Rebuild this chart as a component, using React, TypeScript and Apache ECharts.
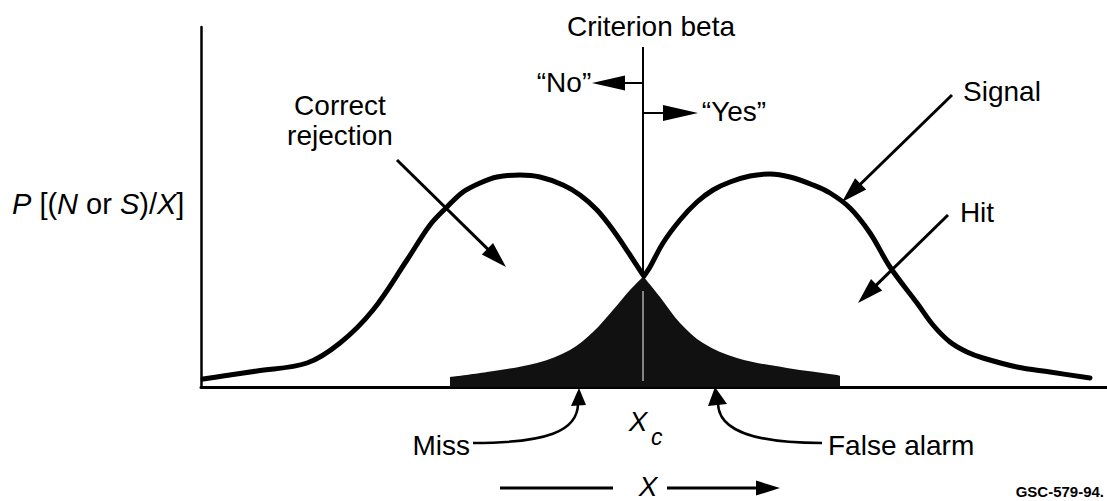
import React, { useEffect, useRef } from "react";
import * as echarts from "echarts";

// Stimulus axis X (arbitrary units) and probability density (arbitrary units)
const noiseX = [0.2, 2.2, 5.6, 10.6, 13.9, 17.2, 20.6, 22.9, 24.6, 26.2, 27.9, 29.6, 31.9, 33.9, 36.2, 37.9, 39.6, 41.2, 42.9, 44.2];
const noiseY = [0.8, 1.1, 1.6, 2.4, 4.4, 7.7, 12.7, 16.2, 18.0, 19.5, 20.4, 21.0, 21.2, 21.0, 20.2, 19.2, 17.7, 15.7, 13.2, 11.2];

const signalX = [44.3, 44.9, 46.2, 47.9, 49.6, 51.2, 52.9, 54.9, 56.9, 58.9, 61.2, 62.9, 64.9, 66.9, 68.9, 71.6, 73.2, 74.9, 76.6, 78.2, 81.6, 84.9, 88.9];
const signalY = [11.1, 12.0, 14.4, 16.7, 18.5, 19.7, 20.5, 21.1, 21.3, 21.0, 20.2, 19.4, 17.9, 15.4, 12.0, 8.4, 6.2, 4.5, 3.5, 2.9, 2.0, 1.5, 0.9];

// Shaded regions: signal tail left of criterion (Miss), noise tail right of criterion (False alarm)
const missX = [24.9, 28.6, 33.6, 36.9, 39.2, 41.2, 42.9, 44.3];
const missY = [1.0, 1.5, 2.4, 3.7, 5.5, 7.7, 9.7, 11.1];
const falseAlarmX = [44.2, 45.9, 47.9, 50.2, 53.6, 58.6, 63.6, 63.9];
const falseAlarmY = [11.1, 9.0, 6.4, 4.4, 2.9, 1.9, 1.2, 1.1];

const criterionX = 44.2;
const criterionTop = 34;
const streakRange = [0.6, 9.6];

const xMax = 90.6;
const yMax = 36;

const FONT = '"Liberation Sans", Arial, Helvetica, sans-serif';

const zip = (xs: number[], ys: number[]) => xs.map((x, i) => [x, ys[i]]);

function arrow(x1: number, y1: number, x2: number, y2: number, len = 24, half = 8, w = 3) {
  const dx = x2 - x1;
  const dy = y2 - y1;
  const L = Math.hypot(dx, dy);
  const ux = dx / L;
  const uy = dy / L;
  const bx = x2 - ux * len;
  const by = y2 - uy * len;
  const px = -uy;
  const py = ux;
  return [
    {
      type: "line",
      shape: { x1, y1, x2: bx + ux * 3, y2: by + uy * 3 },
      style: { stroke: "#000", lineWidth: w },
      silent: true,
    },
    {
      type: "polygon",
      shape: {
        points: [
          [x2, y2],
          [bx + px * half, by + py * half],
          [bx - px * half, by - py * half],
        ],
      },
      style: { fill: "#000" },
      silent: true,
    },
  ];
}

function txt(text: string, x: number, y: number, opts: any = {}) {
  return {
    type: "text",
    x,
    y,
    silent: true,
    style: {
      text,
      fill: "#000",
      fontFamily: FONT,
      fontSize: opts.fontSize ?? 28,
      fontStyle: opts.fontStyle ?? "normal",
      fontWeight: opts.fontWeight ?? "normal",
      textAlign: opts.align ?? "center",
      textVerticalAlign: "middle",
    },
  };
}

export default function App() {
  const ref = useRef<HTMLDivElement>(null);

  useEffect(() => {
    if (!ref.current) return;
    const chart = echarts.init(ref.current, undefined, { renderer: "svg" });

    const lineBase = {
      type: "line",
      symbol: "none",
      smooth: 0.35,
      silent: true,
    };

    const option: any = {
      animation: false,
      backgroundColor: "#fff",
      grid: { left: 201, top: 27, right: 0, bottom: 114, containLabel: false },
      xAxis: {
        type: "value",
        min: 0,
        max: xMax,
        axisLine: { show: true, onZero: false, lineStyle: { color: "#000", width: 3 } },
        axisTick: { show: false },
        axisLabel: { show: false },
        splitLine: { show: false },
      },
      yAxis: {
        type: "value",
        min: 0,
        max: yMax,
        axisLine: { show: true, lineStyle: { color: "#000", width: 2.5 } },
        axisTick: { show: false },
        axisLabel: { show: false },
        splitLine: { show: false },
      },
      series: [
        {
          ...lineBase,
          name: "Criterion",
          smooth: false,
          data: [
            [criterionX, 0],
            [criterionX, criterionTop],
          ],
          lineStyle: { color: "#000", width: 2 },
          z: 1,
        },
        {
          ...lineBase,
          name: "Miss",
          data: zip(missX, missY),
          lineStyle: { width: 0 },
          areaStyle: { color: "#111", opacity: 1 },
          z: 2,
        },
        {
          ...lineBase,
          name: "False alarm",
          data: zip(falseAlarmX, falseAlarmY),
          lineStyle: { width: 0 },
          areaStyle: { color: "#111", opacity: 1 },
          z: 2,
        },
        {
          ...lineBase,
          name: "Streak",
          smooth: false,
          data: [
            [criterionX, streakRange[0]],
            [criterionX, streakRange[1]],
          ],
          lineStyle: { color: "#cfcfcf", width: 1.5, opacity: 0.8 },
          z: 3,
        },
        {
          ...lineBase,
          name: "Noise",
          data: zip(noiseX, noiseY),
          lineStyle: { color: "#000", width: 5, cap: "round", join: "round" },
          z: 4,
        },
        {
          ...lineBase,
          name: "Signal",
          data: zip(signalX, signalY),
          lineStyle: { color: "#000", width: 5, cap: "round", join: "round" },
          z: 4,
        },
      ],
      graphic: [
        txt("Criterion beta", 651, 26),
        txt("\u201cNo\u201d", 564, 82),
        ...arrow(643, 83, 592, 83, 33, 7.5, 2),
        txt("\u201cYes\u201d", 734, 111),
        ...arrow(643, 113, 698, 113, 35, 8, 2),
        txt("Correct", 340, 105),
        txt("rejection", 340, 135),
        ...arrow(397, 160, 506, 267, 26, 8, 3),
        txt("Signal", 1002, 91),
        ...arrow(952, 95, 842, 202, 26, 8, 3),
        txt("Hit", 977, 212),
        ...arrow(948, 215, 858, 303, 26, 8, 3),
        {
          type: "text",
          x: 12,
          y: 204,
          silent: true,
          style: {
            text: "{i|P} [({i|N} or {i|S})/{i|X}]",
            fill: "#000",
            fontFamily: FONT,
            fontSize: 29,
            textAlign: "left",
            textVerticalAlign: "middle",
            rich: {
              i: { fontStyle: "italic", fontFamily: FONT, fontSize: 29, fill: "#000" },
            },
          },
        },
        txt("Miss", 470, 445, { align: "right" }),
        {
          type: "bezierCurve",
          shape: { x1: 473, y1: 443, cpx1: 545, cpy1: 443, cpx2: 579, cpy2: 432, x2: 578, y2: 402 },
          style: { stroke: "#000", lineWidth: 2.5, fill: "none" },
          silent: true,
        },
        {
          type: "polygon",
          shape: { points: [[579, 388], [571, 406], [586, 405]] },
          style: { fill: "#000" },
          silent: true,
        },
        txt("X", 638, 421, { fontStyle: "italic" }),
        txt("c", 651, 437, { fontStyle: "italic", fontSize: 23, align: "left" }),
        txt("False alarm", 828, 445, { align: "left" }),
        {
          type: "bezierCurve",
          shape: { x1: 822, y1: 443, cpx1: 760, cpy1: 443, cpx2: 718, cpy2: 433, x2: 718, y2: 403 },
          style: { stroke: "#000", lineWidth: 2.5, fill: "none" },
          silent: true,
        },
        {
          type: "polygon",
          shape: { points: [[715, 387], [708, 406], [727, 404]] },
          style: { fill: "#000" },
          silent: true,
        },
        {
          type: "line",
          shape: { x1: 500, y1: 488, x2: 613, y2: 488 },
          style: { stroke: "#000", lineWidth: 3 },
          silent: true,
        },
        txt("X", 648, 486, { fontStyle: "italic" }),
        ...arrow(667, 488, 780, 488, 24, 7.5, 3),
        txt("GSC-579-94.", 1104, 491, { align: "right", fontSize: 15, fontWeight: "bold" }),
      ],
    };

    chart.setOption(option);
    return () => chart.dispose();
  }, []);

  return (
    <div
      ref={ref}
      style={{ position: "absolute", left: 0, top: 0, width: 1107, height: 501, background: "#fff" }}
    />
  );
}
